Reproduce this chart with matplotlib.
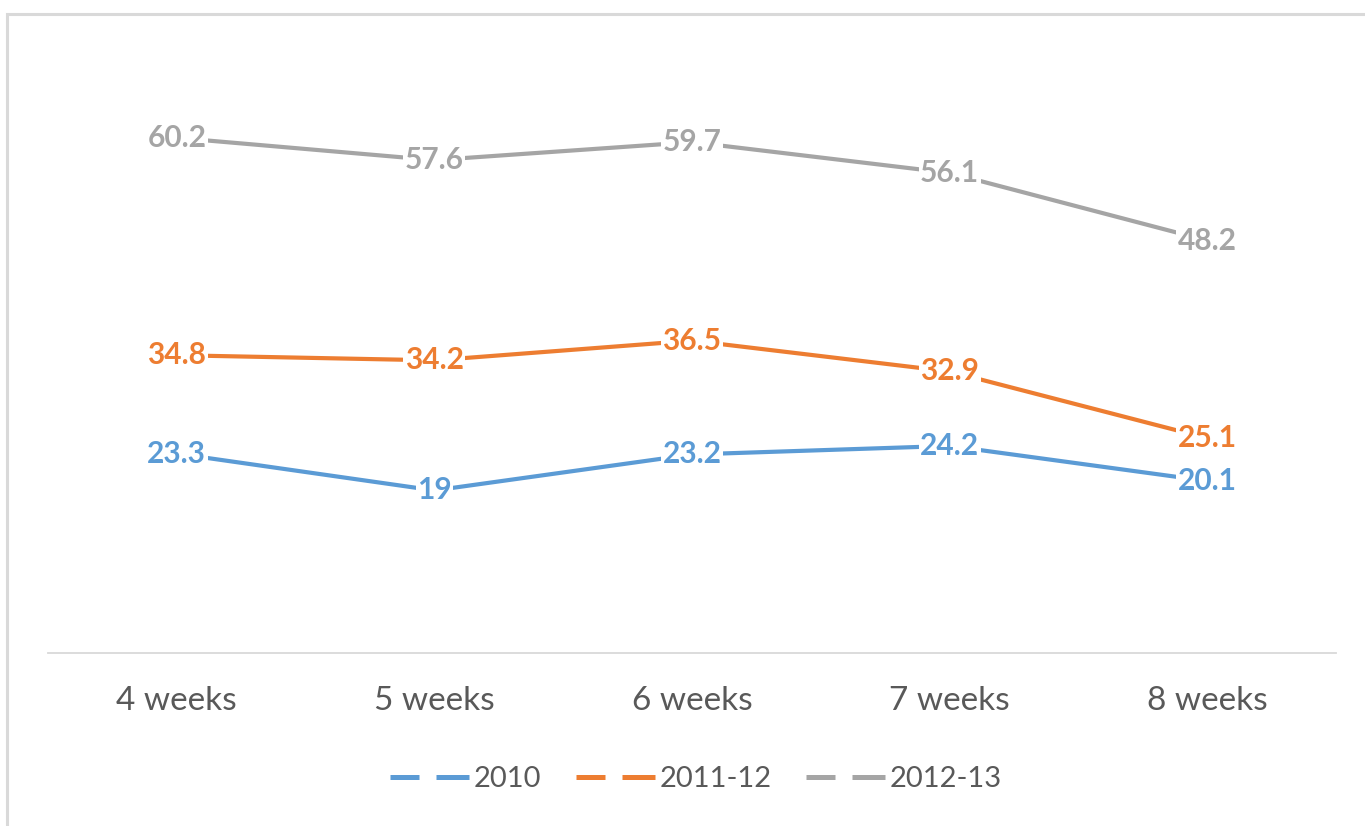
import matplotlib
matplotlib.use("Agg")
import matplotlib.pyplot as plt
from matplotlib.lines import Line2D
from matplotlib.patches import Rectangle

categories = ["4 weeks", "5 weeks", "6 weeks", "7 weeks", "8 weeks"]
series_names = ["2010", "2011-12", "2012-13"]
s2010 = [23.3, 19, 23.2, 24.2, 20.1]
s2011 = [34.8, 34.2, 36.5, 32.9, 25.1]
s2012 = [60.2, 57.6, 59.7, 56.1, 48.2]
colors = ["#5B9BD5", "#ED7D31", "#A5A5A5"]

plt.rcParams['font.family'] = ['Lato', 'DejaVu Sans']

W, H = 1365, 826
fig = plt.figure(figsize=(W / 100, H / 100), dpi=100)
fig.patch.set_facecolor("white")

# outer frame (cropped on right/bottom)
fig.patches.append(Rectangle((7 / W, -0.1), 1.2, 1 - 13.5 / H + 0.1,
                             transform=fig.transFigure, fill=False,
                             edgecolor="#D9D9D9", linewidth=2.2))

left, right = 48 / W, 1336 / W
bottom, top = 1 - 653 / H, 1 - 54 / H
ax = fig.add_axes([left, bottom, right - left, top - bottom])
ax.set_facecolor("none")

x = list(range(len(categories)))
for vals, c in zip([s2010, s2011, s2012], colors):
    ax.plot(x, vals, color=c, linewidth=3.0, solid_capstyle="round", zorder=2)
    for xi, v in zip(x, vals):
        lbl = f"{v:g}"
        ax.text(xi, v, lbl, color=c, fontsize=21.5, fontweight="bold",
                ha="center", va="center", zorder=3,
                bbox=dict(boxstyle="square,pad=0.05", facecolor="white",
                          edgecolor="none"))

ax.set_xlim(-0.5, len(categories) - 0.5)
ax.set_ylim(0, 70)
ax.set_xticks(x)
ax.set_xticklabels(categories, fontsize=24, color="#595959")
ax.tick_params(axis="x", length=0, pad=24)
ax.set_yticks([])
for s in ["top", "right", "left"]:
    ax.spines[s].set_visible(False)
ax.spines["bottom"].set_color("#D9D9D9")
ax.spines["bottom"].set_linewidth(1.3)

handles = [Line2D([0], [0], color=c, linewidth=3.6,
                  linestyle=(0, (5.8, 3.4, 30, 1)), dash_capstyle="butt")
           for c in colors]
fig.legend(handles, series_names, loc="center",
           bbox_to_anchor=(696 / W, 1 - 779 / H), ncol=3, frameon=False,
           fontsize=21, labelcolor="#595959", handlelength=2.7,
           handletextpad=0.15, columnspacing=1.2)

fig.savefig("out.png", dpi=100, facecolor="white")
